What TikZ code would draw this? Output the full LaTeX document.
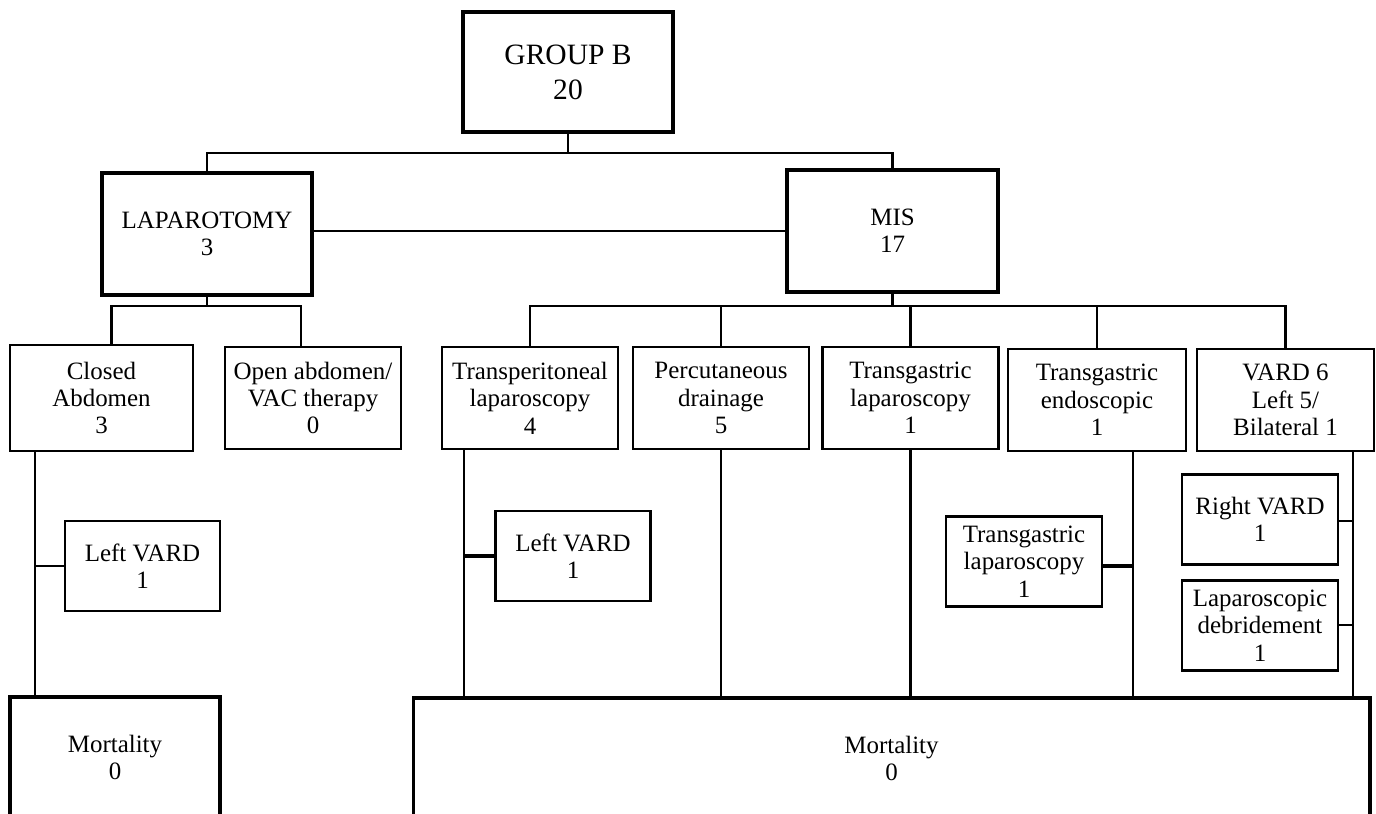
\documentclass[tikz,border=0pt]{standalone}
\usepackage{fontspec}
\setmainfont{Liberation Serif}
\usepackage{tikz}
\usetikzlibrary{positioning, calc}
\tikzstyle{mainbox} = [rectangle, minimum width=4.2cm, minimum height=2.44cm, text centered, align=center, draw=black, line width=2.2pt, font=\fontsize{14.2}{15.6}\selectfont]
\tikzstyle{subbox} = [rectangle, minimum width=3.52cm, minimum height=2.04cm, text centered, align=center, draw=black, line width=1.6pt, font=\fontsize{14.2}{15.6}\selectfont]
\tikzstyle{smallbox} = [subbox, minimum width=3.1cm, minimum height=1.8cm]
\tikzstyle{mortbox} = [subbox, minimum height=2.42cm, line width=1.8pt]
\tikzstyle{conn} = [line width=1.3pt]
\tikzstyle{thickconn} = [line width=2.3pt]

\begin{document}
\begin{tikzpicture}[x=0.02cm, y=-0.02cm]
    \useasboundingbox (0,0) rectangle (1376,814);

    % top levels
    \node (grp) [mainbox, minimum height=2.4cm, font=\fontsize{16.8}{19.9}\selectfont] at (568,72) {GROUP B\\20};
    \node (lap) [mainbox] at (207,234) {LAPAROTOMY\\3};
    \node (mis) [mainbox, minimum width=4.22cm] at (892.5,231) {MIS\\17};

    % laparotomy branch
    \node (closed) [subbox, minimum width=3.66cm, minimum height=2.12cm] at (101.5,398) {Closed\\Abdomen\\3};
    \node (open) [subbox] at (313,398) {Open abdomen/\\VAC therapy\\0};
    \node (lv1) [smallbox] at (142.5,566) {Left VARD\\1};
    \node (mort1) [mortbox, minimum width=4.2cm] at (115,757.5) {Mortality\\0};

    % MIS branch
    \node (tp) [subbox] at (530,398) {Transperitoneal\\laparoscopy\\4};
    \node (pd) [subbox] at (721,398) {Percutaneous\\drainage\\5};
    \node (tgl) [subbox] at (910.5,398) {Transgastric\\laparoscopy\\1};
    \node (tge) [subbox, minimum width=3.56cm] at (1097,400) {Transgastric\\endoscopic\\1};
    \node (vard) [subbox, minimum width=3.54cm] at (1285.5,400) {VARD 6\\Left 5/\\Bilateral 1};
    \node (lv2) [smallbox] at (573,556) {Left VARD\\1};
    \node (tgl2) [smallbox, minimum width=3.12cm] at (1024,561.5) {Transgastric\\laparoscopy\\1};
    \node (rv) [smallbox, minimum width=3.12cm] at (1260,519.5) {Right VARD\\1};
    \node (ld) [smallbox, minimum width=3.12cm] at (1260,625.5) {Laparoscopic\\debridement\\1};
    \node (mort2) [mortbox, minimum width=19.14cm] at (891.5,758.5) {Mortality\\0};

    % junctions on the vertical lines
    \coordinate (j1) at (35,566);
    \coordinate (j2) at (464,556);
    \coordinate (j3) at (1133,566);
    \coordinate (j4) at (1353,521);
    \coordinate (j5) at (1353,625);

    \draw [conn] (grp.south) -- ++(0,19) -| (lap.north);
    \draw [conn] (grp.south) -- ++(0,19) -| (mis.north);
    \draw [conn] (mis.west) -- (mis.west -| lap.east);

    \draw [conn] (lap.south) -- ++(0,9) -| ([xshift=0.2cm]closed.north);
    \draw [conn] (lap.south) -- ++(0,9) -| ([xshift=-0.24cm]open.north);
    \foreach \n in {tp,pd,tgl,tge,vard}
        \draw [conn] (mis.south) -- ++(0,12) -| (\n.north);

    \draw [conn] (closed.south -| j1) -- (mort1.north -| j1);
    \draw [conn] (j1) -- (j1 -| lv1.west);
    \draw [conn] (tp.south -| j2) -- (mort2.north -| j2);
    \draw [thickconn] (j2) -- (j2 -| lv2.west);
    \draw [conn] (pd.south) -- (pd.south |- mort2.north);
    \draw [conn] (tgl.south) -- (tgl.south |- mort2.north);
    \draw [conn] (tge.south -| j3) -- (mort2.north -| j3);
    \draw [thickconn] (j3) -- (j3 -| tgl2.east);
    \draw [conn] (vard.south -| j4) -- (mort2.north -| j4);
    \draw [conn] (j4) -- (j4 -| rv.east);
    \draw [conn] (j5) -- (j5 -| ld.east);
\end{tikzpicture}
\end{document}
